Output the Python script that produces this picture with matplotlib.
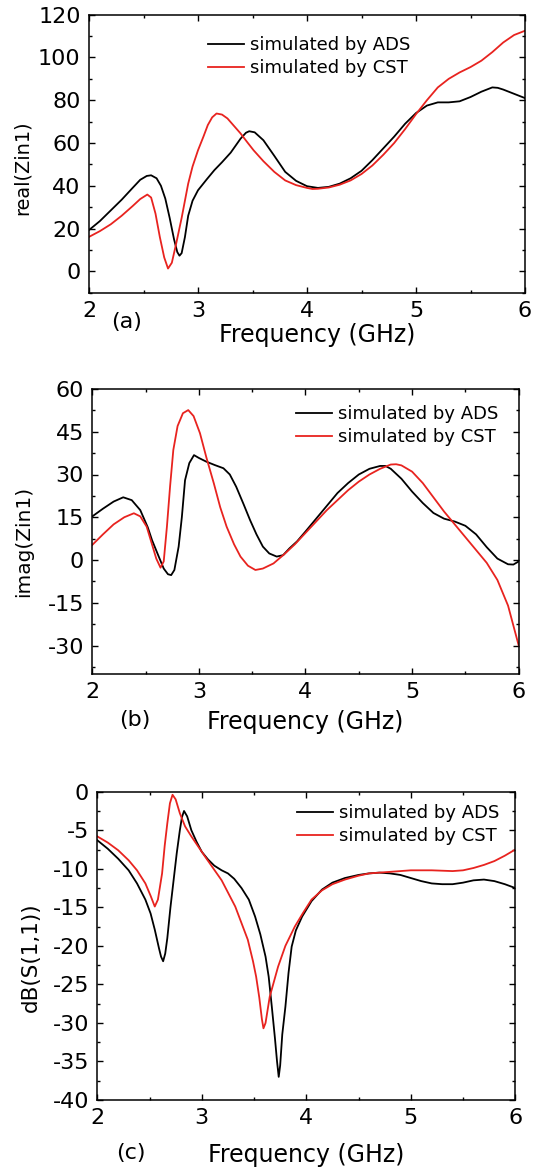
import matplotlib
matplotlib.use("Agg")
import matplotlib.pyplot as plt
from matplotlib.ticker import MultipleLocator

plt.rcParams['font.family'] = ['DejaVu Sans']
plt.rcParams['axes.unicode_minus'] = False

# ---- Panel (a): real(Zin1) ----
fa_ads = [2.0, 2.1, 2.2, 2.3, 2.4, 2.47, 2.53, 2.57, 2.62, 2.66, 2.7, 2.74, 2.78, 2.81, 2.83, 2.85, 2.88,
          2.91, 2.95, 3.0, 3.08, 3.15, 3.22, 3.3, 3.39, 3.44, 3.47, 3.52, 3.6, 3.7, 3.8, 3.9, 4.0, 4.1, 4.2,
          4.3, 4.4, 4.5, 4.6, 4.7, 4.8, 4.9, 5.0, 5.1, 5.2, 5.3, 5.4, 5.5, 5.6, 5.7, 5.75, 5.8, 5.9, 6.0]
ra_ads = [19.3, 23.5, 28.5, 33.5, 39.0, 42.8, 44.6, 44.9, 43.5, 40.0, 34.0, 25.0, 15.0, 9.0, 7.3, 8.5, 16.0,
          26.0, 33.0, 37.9, 43.0, 47.3, 51.0, 55.5, 62.0, 64.8, 65.5, 65.0, 61.3, 54.0, 46.5, 42.3, 39.8,
          39.0, 39.5, 41.0, 43.5, 47.0, 52.0, 57.5, 63.0, 69.0, 74.0, 77.5, 79.0, 79.0, 79.5, 81.5, 84.0,
          86.0, 85.8, 85.0, 83.0, 81.0]
fa_cst = [2.0, 2.1, 2.2, 2.3, 2.4, 2.47, 2.535, 2.57, 2.61, 2.65, 2.69, 2.725, 2.76, 2.8, 2.85, 2.91, 2.95,
          3.0, 3.05, 3.09, 3.13, 3.17, 3.22, 3.27, 3.33, 3.39, 3.45, 3.51, 3.6, 3.7, 3.8, 3.9, 4.0, 4.05,
          4.1, 4.2, 4.3, 4.4, 4.5, 4.6, 4.7, 4.8, 4.9, 5.0, 5.1, 5.2, 5.3, 5.4, 5.5, 5.6, 5.7, 5.8, 5.9, 6.0]
ra_cst = [16.1, 18.8, 22.0, 26.0, 30.5, 33.8, 35.9, 34.5, 27.0, 16.0, 6.5, 1.3, 4.0, 13.0, 25.0, 41.0, 49.0,
          56.6, 63.0, 68.4, 72.0, 73.8, 73.3, 71.5, 68.0, 64.5, 60.5, 56.6, 51.5, 46.5, 42.5, 40.3, 39.0,
          38.5, 38.6, 39.2, 40.5, 42.5, 45.5, 49.5, 54.5, 60.0, 66.5, 73.5, 80.0, 86.0, 90.0, 93.0, 95.5,
          98.5, 102.5, 107.0, 110.5, 112.5]

# ---- Panel (b): imag(Zin1) ----
fb_ads = [2.0, 2.1, 2.2, 2.29, 2.37, 2.45, 2.52, 2.56, 2.62, 2.67, 2.71, 2.74, 2.77, 2.81, 2.84, 2.87, 2.91,
          2.954, 3.0, 3.07, 3.15, 3.23, 3.29, 3.35, 3.42, 3.48, 3.54, 3.6, 3.66, 3.73, 3.79, 3.85, 3.92,
          4.0, 4.1, 4.2, 4.3, 4.4, 4.5, 4.6, 4.7, 4.75, 4.8, 4.9, 5.0, 5.1, 5.2, 5.3, 5.4, 5.5, 5.6, 5.7,
          5.8, 5.9, 5.95, 6.0]
ib_ads = [15.3, 18.0, 20.5, 22.0, 21.0, 17.5, 11.5, 7.0, 1.5, -3.0, -5.0, -5.3, -3.5, 4.7, 15.0, 28.0,
          34.0, 36.8, 35.8, 34.5, 33.3, 32.2, 30.0, 25.7, 19.5, 14.0, 9.0, 4.7, 2.3, 1.2, 1.7, 4.1, 6.5,
          10.0, 14.5, 19.0, 23.5, 27.0, 30.0, 32.0, 33.0, 33.0, 32.0, 28.5, 24.0, 20.0, 16.5, 14.5, 13.5,
          12.0, 9.0, 4.5, 0.5, -1.5, -1.6, -0.5]
fb_cst = [2.0, 2.1, 2.2, 2.3, 2.39, 2.45, 2.51, 2.56, 2.6, 2.64, 2.67, 2.7, 2.73, 2.76, 2.8, 2.85, 2.9,
          2.95, 3.01, 3.07, 3.14, 3.2, 3.26, 3.33, 3.39, 3.46, 3.53, 3.6, 3.7, 3.8, 3.9, 4.0, 4.1, 4.2,
          4.3, 4.4, 4.5, 4.6, 4.7, 4.8, 4.85, 4.9, 5.0, 5.1, 5.2, 5.3, 5.4, 5.5, 5.6, 5.7, 5.8, 5.9, 6.0]
ib_cst = [5.3, 9.0, 12.5, 15.0, 16.4, 15.3, 11.7, 5.5, 0.5, -2.7, -0.5, 11.7, 26.0, 38.6, 47.0, 51.5,
          52.6, 50.5, 44.5, 36.0, 26.9, 18.5, 11.7, 5.5, 1.2, -2.0, -3.5, -3.0, -1.2, 2.0, 5.5, 9.5, 13.5,
          17.5, 21.0, 24.5, 27.5, 30.0, 32.0, 33.5, 33.6, 33.2, 31.0, 27.0, 22.0, 17.0, 12.5, 8.0, 3.5,
          -1.0, -7.0, -16.0, -30.0]

# ---- Panel (c): dB(S(1,1)) ----
fc_ads = [2.0, 2.1, 2.2, 2.3, 2.38, 2.46, 2.51, 2.55, 2.59, 2.61, 2.63, 2.65, 2.67, 2.7, 2.73, 2.76, 2.79,
          2.81, 2.83, 2.86, 2.9, 2.95, 3.0, 3.06, 3.12, 3.19, 3.25, 3.31, 3.38, 3.45, 3.51, 3.56, 3.61,
          3.64, 3.67, 3.7, 3.72, 3.736, 3.75, 3.77, 3.8, 3.83, 3.86, 3.9, 3.96, 4.05, 4.15, 4.25, 4.37,
          4.5, 4.6, 4.7, 4.8, 4.9, 5.0, 5.1, 5.2, 5.3, 5.4, 5.5, 5.6, 5.7, 5.8, 5.9, 6.0]
sc_ads = [-6.3, -7.4, -8.7, -10.2, -11.9, -14.0, -15.8, -17.9, -20.3, -21.4, -22.0, -21.0, -19.0, -15.0,
          -11.5, -8.0, -5.0, -3.3, -2.5, -3.2, -5.0, -6.5, -7.8, -8.8, -9.6, -10.2, -10.6, -11.3, -12.5,
          -14.0, -16.2, -18.5, -21.4, -24.0, -27.9, -32.0, -35.0, -37.0, -35.5, -31.5, -27.9, -23.5,
          -20.1, -18.0, -16.2, -14.2, -12.7, -11.8, -11.2, -10.8, -10.6, -10.5, -10.6, -10.8, -11.2,
          -11.6, -11.9, -12.0, -12.0, -11.8, -11.5, -11.4, -11.6, -12.0, -12.5]
fc_cst = [2.0, 2.1, 2.2, 2.3, 2.38, 2.46, 2.51, 2.55, 2.58, 2.62, 2.645, 2.67, 2.695, 2.72, 2.75, 2.79,
          2.84, 2.9, 3.03, 3.19, 3.32, 3.44, 3.49, 3.52, 3.55, 3.575, 3.59, 3.61, 3.65, 3.73, 3.8, 3.89,
          3.97, 4.05, 4.15, 4.25, 4.37, 4.5, 4.6, 4.7, 4.8, 4.9, 5.0, 5.2, 5.4, 5.5, 5.6, 5.7, 5.8, 5.9, 6.0]
sc_cst = [-5.8, -6.6, -7.6, -8.9, -10.2, -11.9, -13.5, -14.9, -14.0, -10.6, -7.0, -4.1, -1.5, -0.4, -1.0,
          -2.8, -4.5, -5.8, -8.4, -11.5, -14.9, -19.2, -22.0, -24.0, -26.7, -29.5, -30.7, -30.0, -26.6,
          -22.7, -20.0, -17.5, -15.7, -14.0, -12.8, -12.0, -11.4, -10.9, -10.6, -10.5, -10.4, -10.3, -10.2,
          -10.2, -10.3, -10.2, -9.9, -9.5, -9.0, -8.3, -7.5]

legend_labels = ["simulated by ADS", "simulated by CST"]
panel_tags = ["(a)", "(b)", "(c)"]
ylabels = ["real(Zin1)", "imag(Zin1)", "dB(S(1,1))"]
xlabel = "Frequency (GHz)"

W, H = 533, 1171
fig = plt.figure(figsize=(W / 100, H / 100), dpi=100)


def px_axes(l, r, t, b):
    return fig.add_axes([l / W, 1 - b / H, (r - l) / W, (b - t) / H])


panels = [
    dict(box=(89, 525, 14.7, 292.7), ylim=(-10, 120), major=20, minor=10,
         data=(fa_ads, ra_ads, fa_cst, ra_cst), leg=(208, 36), tag=(127, 322), xl=(317, 335),
         yl=(22, 168), ylfs=13.9),
    dict(box=(92.3, 518.7, 389, 674), ylim=(-40, 60), major=15, minor=7.5,
         data=(fb_ads, ib_ads, fb_cst, ib_cst), leg=(296, 405), tag=(135, 720), xl=(305, 722),
         yl=(24, 541), ylfs=14.5),
    dict(box=(97.3, 515.3, 791.7, 1100), ylim=(-40, 0), major=5, minor=2.5,
         data=(fc_ads, sc_ads, fc_cst, sc_cst), leg=(297, 804), tag=(131, 1153), xl=(306, 1155),
         yl=(31, 957), ylfs=15.5),
]

for i, p in enumerate(panels):
    l, r, t, b = p['box']
    ax = px_axes(l, r, t, b)
    fx, fy, gx, gy = p['data']
    ax.plot(fx, fy, color='black', lw=1.3, label=legend_labels[0])
    ax.plot(gx, gy, color='#e8231f', lw=1.3, label=legend_labels[1])
    ax.set_xlim(2, 6)
    ax.set_ylim(*p['ylim'])
    ax.xaxis.set_major_locator(MultipleLocator(1))
    ax.xaxis.set_minor_locator(MultipleLocator(0.5))
    ax.yaxis.set_major_locator(MultipleLocator(p['major']))
    ax.yaxis.set_minor_locator(MultipleLocator(p['minor']))
    ax.tick_params(which='both', direction='in', top=True, right=True, width=1.0, labelsize=16)
    ax.tick_params(which='major', length=4.5)
    ax.tick_params(which='minor', length=2.5)
    ax.tick_params(axis='x', pad=6)
    ax.tick_params(axis='y', pad=6)
    for s in ax.spines.values():
        s.set_linewidth(1.1)
    lx, ly = p['leg']
    ax.legend(loc='upper left', bbox_to_anchor=(lx / W, 1 - ly / H), bbox_transform=fig.transFigure,
              frameon=False, fontsize=13, handlelength=2.0, handletextpad=0.3, borderpad=0,
              borderaxespad=0, labelspacing=0.27)
    tx, ty = p['tag']
    fig.text(tx / W, 1 - ty / H, panel_tags[i], fontsize=16, ha='center', va='center')
    xx, xy = p['xl']
    fig.text(xx / W, 1 - xy / H, xlabel, fontsize=17, ha='center', va='center')
    yx, yy = p['yl']
    fig.text(yx / W, 1 - yy / H, ylabels[i], fontsize=p['ylfs'], ha='center', va='center', rotation=90)

fig.savefig("out.png", dpi=100)
